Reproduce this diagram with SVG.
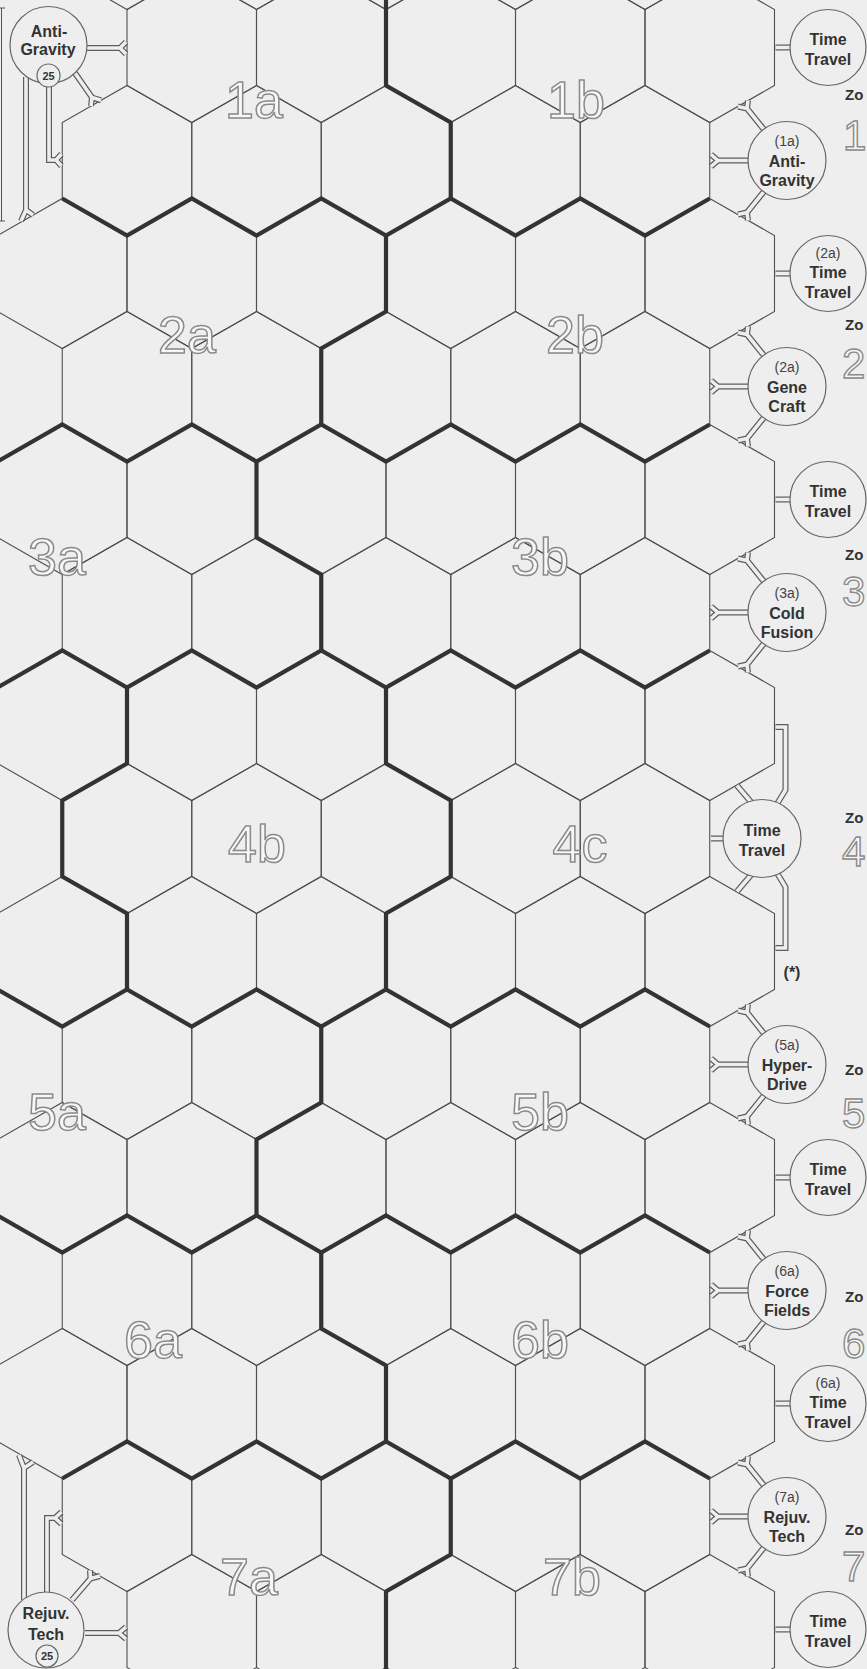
<svg xmlns="http://www.w3.org/2000/svg" width="867" height="1669" viewBox="0 0 867 1669">
<defs>
<style>
.hx{fill:none;stroke:#505050;stroke-width:1.1}
.bd{fill:none;stroke:#333;stroke-width:4.2;stroke-linejoin:miter;stroke-miterlimit:10}
.co{fill:none;stroke:#5c5c5c;stroke-width:6}
.ci{fill:none;stroke:#eeeeee;stroke-width:3.6}
.nd{fill:#eeeeee;stroke:#666;stroke-width:1.2}
.t{font-family:"Liberation Sans",Arial,sans-serif;font-weight:bold;font-size:16px;fill:#333;text-anchor:middle}
.s{font-family:"Liberation Sans",Arial,sans-serif;font-size:14px;fill:#444;text-anchor:middle}
.n{font-family:"Liberation Sans",Arial,sans-serif;font-weight:bold;font-size:11px;fill:#333;text-anchor:middle}
.zl{font-family:"Liberation Sans",Arial,sans-serif;font-size:52px;fill:#f7f7f7;stroke:#8a8a8a;stroke-width:1.5;text-anchor:middle}
.zo{font-family:"Liberation Sans",Arial,sans-serif;font-weight:bold;font-size:15px;fill:#333}
.zn{font-family:"Liberation Sans",Arial,sans-serif;font-size:42px;fill:#f7f7f7;stroke:#8a8a8a;stroke-width:1.4}
</style>
<path id="h" d="M0,-75 L64.75,-38 L64.75,38 L0,75 L-64.75,38 L-64.75,-38 Z"/>
<g id="rE"><use href="#h" x="127"/><use href="#h" x="256.5"/><use href="#h" x="386"/><use href="#h" x="515.5"/><use href="#h" x="645"/></g>
<g id="rO5"><use href="#h" x="191.75"/><use href="#h" x="321.25"/><use href="#h" x="450.75"/><use href="#h" x="580.25"/><use href="#h" x="709.75"/></g>
<g id="rO"><use href="#h" x="62.25"/><use href="#rO5"/></g>
<path id="tk" d="M-39,0 H-69 L-76,-6 M-69,0 L-76,6 M-23,-31 L-40,-52 L-39,-60 M-40,-52 L-49,-54 M-23,31 L-40,52 L-39,60 M-40,52 L-49,54"/>
<path id="tt" d="M-52.5,0 H-37"/>
<path id="k8" d="M723,838.5 H711 M751,802 L737,785.5 M751,875 L737,891.5 M777,804 L785.5,790 V727 H775.5 M777,873 L785.5,887 V948 H775.5"/>
<path id="kag" d="M87,48 H120 L126,42 M120,48 L126,54 M75,73 L92,97.5 L101,100.3 M92,97.5 L91,106 M49,87 V160 H56 L61.5,154 M56,160 L61.5,166 M26,77 V210 L21,221 M26,210 L33,215"/>
<path id="krt" d="M85,1633 H119 L126,1627 M119,1633 L126,1639 M72,1600 L90.5,1578.5 L100,1576 M90.5,1578.5 L90,1570.3 M47,1592 V1518 H55 L61.5,1512 M55,1518 L61.5,1524 M24,1600 V1468 L19,1455 M24,1468 L33,1462"/>
</defs>
<rect x="0" y="0" width="867" height="1669" fill="#eeeeee"/>
<g id="hexgrid" class="hx">
<use href="#rE" y="-65.5"/>
<use href="#rO5" y="47.5"/>
<use href="#rE" y="160.5"/>
<use href="#rO" y="273.5"/>
<use href="#rE" y="386.5"/>
<use href="#rO" y="499.5"/>
<use href="#rE" y="612.5"/>
<use href="#rO" y="725.5"/>
<use href="#rE" y="838.5"/>
<use href="#rO" y="951.5"/>
<use href="#rE" y="1064.5"/>
<use href="#rO" y="1177.5"/>
<use href="#rE" y="1290.5"/>
<use href="#rO" y="1403.5"/>
<use href="#rE" y="1516.5"/>
<use href="#rO5" y="1629.5"/>
</g>
<g id="zone-borders" class="bd">
<path d="M386,-5 V85.5 L450.75,122.5 V198.5"/>
<path d="M62.25,198.5 L127,235.5 L191.75,198.5 L256.5,235.5 L321.25,198.5 L386,235.5 L450.75,198.5 L515.5,235.5 L580.25,198.5 L645,235.5 L709.75,198.5"/>
<path d="M386,235.5 V311.5 L321.25,348.5 V424.5"/>
<path d="M-67.25,424.5 L-2.5,461.5 L62.25,424.5 L127,461.5 L191.75,424.5 L256.5,461.5 L321.25,424.5 L386,461.5 L450.75,424.5 L515.5,461.5 L580.25,424.5 L645,461.5 L709.75,424.5"/>
<path d="M256.5,461.5 V537.5 L321.25,574.5 V650.5"/>
<path d="M-67.25,650.5 L-2.5,687.5 L62.25,650.5 L127,687.5 L191.75,650.5 L256.5,687.5 L321.25,650.5 L386,687.5 L450.75,650.5 L515.5,687.5 L580.25,650.5 L645,687.5 L709.75,650.5"/>
<path d="M127,687.5 V763.5 L62.25,800.5 V876.5 L127,913.5 V989.5"/>
<path d="M386,687.5 V763.5 L450.75,800.5 V876.5 L386,913.5 V989.5"/>
<path d="M-67.25,1026.5 L-2.5,989.5 L62.25,1026.5 L127,989.5 L191.75,1026.5 L256.5,989.5 L321.25,1026.5 L386,989.5 L450.75,1026.5 L515.5,989.5 L580.25,1026.5 L645,989.5 L709.75,1026.5"/>
<path d="M321.25,1026.5 V1102.5 L256.5,1139.5 V1215.5"/>
<path d="M-67.25,1252.5 L-2.5,1215.5 L62.25,1252.5 L127,1215.5 L191.75,1252.5 L256.5,1215.5 L321.25,1252.5 L386,1215.5 L450.75,1252.5 L515.5,1215.5 L580.25,1252.5 L645,1215.5 L709.75,1252.5"/>
<path d="M321.25,1252.5 V1328.5 L386,1365.5 V1441.5"/>
<path d="M62.25,1478.5 L127,1441.5 L191.75,1478.5 L256.5,1441.5 L321.25,1478.5 L386,1441.5 L450.75,1478.5 L515.5,1441.5 L580.25,1478.5 L645,1441.5 L709.75,1478.5"/>
<path d="M450.75,1478.5 V1554.5 L386,1591.5 V1675"/>
</g>
<g id="zone-labels" class="zl">
<text x="254" y="118">1a</text><text x="576" y="118">1b</text>
<text x="187" y="353">2a</text><text x="575" y="353">2b</text>
<text x="57" y="575">3a</text><text x="540" y="575">3b</text>
<text x="257" y="862">4b</text><text x="580" y="862">4c</text>
<text x="57" y="1130">5a</text><text x="540" y="1130">5b</text>
<text x="153" y="1358">6a</text><text x="540" y="1358">6b</text>
<text x="249" y="1595">7a</text><text x="572" y="1595">7b</text>
</g>
<path d="M0,8 H5 M1.5,8 V221 M0,221 H5" fill="none" stroke="#555" stroke-width="1"/>
<g id="connectors">
<g class="co">
<use href="#tk" x="787" y="160.5"/><use href="#tk" x="787" y="386.5"/><use href="#tk" x="787" y="612.5"/><use href="#tk" x="787" y="1064.5"/><use href="#tk" x="787" y="1290.5"/><use href="#tk" x="787" y="1516.5"/>
<use href="#tt" x="828" y="47.5"/><use href="#tt" x="828" y="273.5"/><use href="#tt" x="828" y="499.5"/><use href="#tt" x="828" y="1177.5"/><use href="#tt" x="828" y="1403.5"/><use href="#tt" x="828" y="1629.5"/>
<use href="#k8"/><use href="#kag"/><use href="#krt"/>
</g>
<g class="ci">
<use href="#tk" x="787" y="160.5"/><use href="#tk" x="787" y="386.5"/><use href="#tk" x="787" y="612.5"/><use href="#tk" x="787" y="1064.5"/><use href="#tk" x="787" y="1290.5"/><use href="#tk" x="787" y="1516.5"/>
<use href="#tt" x="828" y="47.5"/><use href="#tt" x="828" y="273.5"/><use href="#tt" x="828" y="499.5"/><use href="#tt" x="828" y="1177.5"/><use href="#tt" x="828" y="1403.5"/><use href="#tt" x="828" y="1629.5"/>
<use href="#k8"/><use href="#kag"/><use href="#krt"/>
</g>
</g>
<g id="n-antigravity-left"><circle class="nd" cx="48.5" cy="45" r="38.5"/><text class="t" x="49" y="37">Anti-</text><text class="t" x="48" y="55">Gravity</text><circle class="nd" cx="48.5" cy="75.5" r="11.5"/><text class="n" x="48.5" y="79.5">25</text></g>
<g id="n-rejuv-left"><circle class="nd" cx="46" cy="1630" r="38"/><text class="t" x="46" y="1619">Rejuv.</text><text class="t" x="46" y="1640">Tech</text><circle class="nd" cx="47" cy="1656" r="11"/><text class="n" x="47" y="1660">25</text></g>
<g id="n-tt1"><circle class="nd" cx="828" cy="47.5" r="38"/><text class="t" x="828" y="44.5">Time</text><text class="t" x="828" y="64.5">Travel</text></g>
<g id="n-ag1a"><circle class="nd" cx="787" cy="160.5" r="39"/><text class="s" x="787" y="145.5">(1a)</text><text class="t" x="787" y="166.5">Anti-</text><text class="t" x="787" y="185.5">Gravity</text></g>
<g id="n-tt2a"><circle class="nd" cx="828" cy="273.5" r="38"/><text class="s" x="828" y="257.5">(2a)</text><text class="t" x="828" y="277.5">Time</text><text class="t" x="828" y="297.5">Travel</text></g>
<g id="n-gc2a"><circle class="nd" cx="787" cy="386.5" r="39"/><text class="s" x="787" y="371.5">(2a)</text><text class="t" x="787" y="392.5">Gene</text><text class="t" x="787" y="411.5">Craft</text></g>
<g id="n-tt3"><circle class="nd" cx="828" cy="499.5" r="38"/><text class="t" x="828" y="496.5">Time</text><text class="t" x="828" y="516.5">Travel</text></g>
<g id="n-cf3a"><circle class="nd" cx="787" cy="612.5" r="39"/><text class="s" x="787" y="597.5">(3a)</text><text class="t" x="787" y="618.5">Cold</text><text class="t" x="787" y="637.5">Fusion</text></g>
<g id="n-tt4"><circle class="nd" cx="762" cy="838.5" r="39"/><text class="t" x="762" y="835.5">Time</text><text class="t" x="762" y="855.5">Travel</text></g>
<text id="note-star" x="792" y="978" font-family="Liberation Sans, Arial, sans-serif" font-weight="bold" font-size="16" fill="#333" text-anchor="middle">(*)</text>
<g id="n-hd5a"><circle class="nd" cx="787" cy="1064.5" r="39"/><text class="s" x="787" y="1049.5">(5a)</text><text class="t" x="787" y="1070.5">Hyper-</text><text class="t" x="787" y="1089.5">Drive</text></g>
<g id="n-tt5"><circle class="nd" cx="828" cy="1177.5" r="38"/><text class="t" x="828" y="1174.5">Time</text><text class="t" x="828" y="1194.5">Travel</text></g>
<g id="n-ff6a"><circle class="nd" cx="787" cy="1290.5" r="39"/><text class="s" x="787" y="1275.5">(6a)</text><text class="t" x="787" y="1296.5">Force</text><text class="t" x="787" y="1315.5">Fields</text></g>
<g id="n-tt6a"><circle class="nd" cx="828" cy="1403.5" r="38"/><text class="s" x="828" y="1387.5">(6a)</text><text class="t" x="828" y="1407.5">Time</text><text class="t" x="828" y="1427.5">Travel</text></g>
<g id="n-rt7a"><circle class="nd" cx="787" cy="1516.5" r="39"/><text class="s" x="787" y="1501.5">(7a)</text><text class="t" x="787" y="1522.5">Rejuv.</text><text class="t" x="787" y="1541.5">Tech</text></g>
<g id="n-tt7"><circle class="nd" cx="828" cy="1629.5" r="38"/><text class="t" x="828" y="1626.5">Time</text><text class="t" x="828" y="1646.5">Travel</text></g>
<g id="zone-side">
<text class="zo" x="845" y="100">Zo</text><text class="zn" x="843" y="150">1</text>
<text class="zo" x="845" y="330">Zo</text><text class="zn" x="842" y="378">2</text>
<text class="zo" x="845" y="560">Zo</text><text class="zn" x="842" y="606">3</text>
<text class="zo" x="845" y="823">Zo</text><text class="zn" x="842" y="866">4</text>
<text class="zo" x="845" y="1075">Zo</text><text class="zn" x="842" y="1128">5</text>
<text class="zo" x="845" y="1302">Zo</text><text class="zn" x="842" y="1358">6</text>
<text class="zo" x="845" y="1535">Zo</text><text class="zn" x="842" y="1581">7</text>
</g>
</svg>
